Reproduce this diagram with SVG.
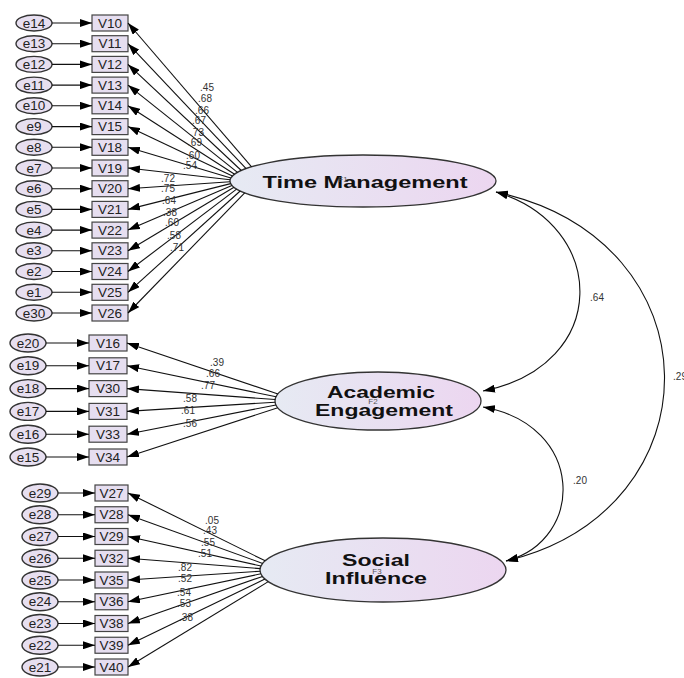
<svg xmlns="http://www.w3.org/2000/svg" width="684" height="678" viewBox="0 0 684 678">
<defs>
<linearGradient id="lat" x1="0" y1="0" x2="1" y2="0">
<stop offset="0" stop-color="#e6eaf3"/>
<stop offset="1" stop-color="#ecd6f0"/>
</linearGradient>
<marker id="ah" viewBox="0 0 12 8" refX="12" refY="4" markerWidth="12" markerHeight="8" orient="auto-start-reverse" markerUnits="userSpaceOnUse">
<path d="M0,0 L12,4 L0,8 z" fill="#000"/>
</marker>
</defs>
<style>
.err{fill:#e7dff0;stroke:#333;stroke-width:1.4}
.obs{fill:#e6def0;stroke:#444;stroke-width:1.2}
.lat{fill:url(#lat);stroke:#333;stroke-width:1.3}
.t{font-family:"Liberation Sans",Arial,sans-serif;font-size:13.5px;fill:#222;text-anchor:middle}
.lt{font-family:"Liberation Sans",Arial,sans-serif;font-size:17px;font-weight:bold;fill:#111;text-anchor:middle}
.sm{font-family:"Liberation Sans",Arial,sans-serif;font-size:8px;fill:#555;text-anchor:middle}
.lb{font-family:"Liberation Sans",Arial,sans-serif;font-size:10px;fill:#333;text-anchor:middle}
.c{stroke:#111;stroke-width:1.1;fill:none;marker-end:url(#ah)}
.cv{stroke:#111;stroke-width:1.1;fill:none;marker-end:url(#ah);marker-start:url(#ah)}
</style>
<rect width="684" height="678" fill="#fff"/>

<!-- Latent nodes -->
<g id="time-management">
<ellipse class="lat" cx="363" cy="181" rx="133" ry="26"/>
<text class="lt" x="365" y="188" textLength="205" lengthAdjust="spacingAndGlyphs">Time Management</text>
<text class="sm" x="343" y="182">F1</text>
</g>
<g id="academic-engagement">
<ellipse class="lat" cx="378" cy="401" rx="103" ry="29"/>
<text class="lt" x="381" y="398" textLength="108" lengthAdjust="spacingAndGlyphs">Academic</text>
<text class="lt" x="384" y="416" textLength="138" lengthAdjust="spacingAndGlyphs">Engagement</text>
<text class="sm" x="373" y="404">F2</text>
</g>
<g id="social-influence">
<ellipse class="lat" cx="383" cy="570" rx="123" ry="32"/>
<text class="lt" x="376" y="566" textLength="68" lengthAdjust="spacingAndGlyphs">Social</text>
<text class="lt" x="376" y="584" textLength="102" lengthAdjust="spacingAndGlyphs">Influence</text>
<text class="sm" x="377" y="574">F3</text>
</g>

<!-- Time management indicators -->
<g id="n-e14"><ellipse class="err" cx="34" cy="23" rx="18" ry="8"/><text class="t" x="34" y="27.5">e14</text></g>
<g id="n-V10"><rect class="obs" x="92" y="15" width="36" height="16"/><text class="t" x="110" y="27.5">V10</text></g>
<g id="n-e13"><ellipse class="err" cx="34" cy="43.7" rx="18" ry="8"/><text class="t" x="34" y="48.2">e13</text></g>
<g id="n-V11"><rect class="obs" x="92" y="35.7" width="36" height="16"/><text class="t" x="110" y="48.2">V11</text></g>
<g id="n-e12"><ellipse class="err" cx="34" cy="64.4" rx="18" ry="8"/><text class="t" x="34" y="68.9">e12</text></g>
<g id="n-V12"><rect class="obs" x="92" y="56.4" width="36" height="16"/><text class="t" x="110" y="68.9">V12</text></g>
<g id="n-e11"><ellipse class="err" cx="34" cy="85.1" rx="18" ry="8"/><text class="t" x="34" y="89.6">e11</text></g>
<g id="n-V13"><rect class="obs" x="92" y="77.1" width="36" height="16"/><text class="t" x="110" y="89.6">V13</text></g>
<g id="n-e10"><ellipse class="err" cx="34" cy="105.8" rx="18" ry="8"/><text class="t" x="34" y="110.3">e10</text></g>
<g id="n-V14"><rect class="obs" x="92" y="97.8" width="36" height="16"/><text class="t" x="110" y="110.3">V14</text></g>
<g id="n-e9"><ellipse class="err" cx="34" cy="126.6" rx="18" ry="8"/><text class="t" x="34" y="131.1">e9</text></g>
<g id="n-V15"><rect class="obs" x="92" y="118.6" width="36" height="16"/><text class="t" x="110" y="131.1">V15</text></g>
<g id="n-e8"><ellipse class="err" cx="34" cy="147.3" rx="18" ry="8"/><text class="t" x="34" y="151.8">e8</text></g>
<g id="n-V18"><rect class="obs" x="92" y="139.3" width="36" height="16"/><text class="t" x="110" y="151.8">V18</text></g>
<g id="n-e7"><ellipse class="err" cx="34" cy="168" rx="18" ry="8"/><text class="t" x="34" y="172.5">e7</text></g>
<g id="n-V19"><rect class="obs" x="92" y="160" width="36" height="16"/><text class="t" x="110" y="172.5">V19</text></g>
<g id="n-e6"><ellipse class="err" cx="34" cy="188.7" rx="18" ry="8"/><text class="t" x="34" y="193.2">e6</text></g>
<g id="n-V20"><rect class="obs" x="92" y="180.7" width="36" height="16"/><text class="t" x="110" y="193.2">V20</text></g>
<g id="n-e5"><ellipse class="err" cx="34" cy="209.4" rx="18" ry="8"/><text class="t" x="34" y="213.9">e5</text></g>
<g id="n-V21"><rect class="obs" x="92" y="201.4" width="36" height="16"/><text class="t" x="110" y="213.9">V21</text></g>
<g id="n-e4"><ellipse class="err" cx="34" cy="230.1" rx="18" ry="8"/><text class="t" x="34" y="234.6">e4</text></g>
<g id="n-V22"><rect class="obs" x="92" y="222.1" width="36" height="16"/><text class="t" x="110" y="234.6">V22</text></g>
<g id="n-e3"><ellipse class="err" cx="34" cy="250.8" rx="18" ry="8"/><text class="t" x="34" y="255.3">e3</text></g>
<g id="n-V23"><rect class="obs" x="92" y="242.8" width="36" height="16"/><text class="t" x="110" y="255.3">V23</text></g>
<g id="n-e2"><ellipse class="err" cx="34" cy="271.5" rx="18" ry="8"/><text class="t" x="34" y="276">e2</text></g>
<g id="n-V24"><rect class="obs" x="92" y="263.5" width="36" height="16"/><text class="t" x="110" y="276">V24</text></g>
<g id="n-e1"><ellipse class="err" cx="34" cy="292.3" rx="18" ry="8"/><text class="t" x="34" y="296.8">e1</text></g>
<g id="n-V25"><rect class="obs" x="92" y="284.3" width="36" height="16"/><text class="t" x="110" y="296.8">V25</text></g>
<g id="n-e30"><ellipse class="err" cx="34" cy="313" rx="18" ry="8"/><text class="t" x="34" y="317.5">e30</text></g>
<g id="n-V26"><rect class="obs" x="92" y="305" width="36" height="16"/><text class="t" x="110" y="317.5">V26</text></g>

<!-- Academic engagement indicators -->
<g id="n-e20"><ellipse class="err" cx="28" cy="343" rx="18" ry="9"/><text class="t" x="28" y="347.5">e20</text></g>
<g id="n-V16"><rect class="obs" x="89" y="335" width="38" height="16"/><text class="t" x="108" y="347.5">V16</text></g>
<g id="n-e19"><ellipse class="err" cx="28" cy="365.8" rx="18" ry="9"/><text class="t" x="28" y="370.3">e19</text></g>
<g id="n-V17"><rect class="obs" x="89" y="357.8" width="38" height="16"/><text class="t" x="108" y="370.3">V17</text></g>
<g id="n-e18"><ellipse class="err" cx="28" cy="388.6" rx="18" ry="9"/><text class="t" x="28" y="393.1">e18</text></g>
<g id="n-V30"><rect class="obs" x="89" y="380.6" width="38" height="16"/><text class="t" x="108" y="393.1">V30</text></g>
<g id="n-e17"><ellipse class="err" cx="28" cy="411.4" rx="18" ry="9"/><text class="t" x="28" y="415.9">e17</text></g>
<g id="n-V31"><rect class="obs" x="89" y="403.4" width="38" height="16"/><text class="t" x="108" y="415.9">V31</text></g>
<g id="n-e16"><ellipse class="err" cx="28" cy="434.2" rx="18" ry="9"/><text class="t" x="28" y="438.7">e16</text></g>
<g id="n-V33"><rect class="obs" x="89" y="426.2" width="38" height="16"/><text class="t" x="108" y="438.7">V33</text></g>
<g id="n-e15"><ellipse class="err" cx="28" cy="457" rx="18" ry="9"/><text class="t" x="28" y="461.5">e15</text></g>
<g id="n-V34"><rect class="obs" x="89" y="449" width="38" height="16"/><text class="t" x="108" y="461.5">V34</text></g>

<!-- Social influence indicators -->
<g id="n-e29"><ellipse class="err" cx="40" cy="493" rx="18" ry="9"/><text class="t" x="40" y="497.5">e29</text></g>
<g id="n-V27"><rect class="obs" x="95" y="485" width="33" height="16"/><text class="t" x="111.5" y="497.5">V27</text></g>
<g id="n-e28"><ellipse class="err" cx="40" cy="514.75" rx="18" ry="9"/><text class="t" x="40" y="519.25">e28</text></g>
<g id="n-V28"><rect class="obs" x="95" y="506.75" width="33" height="16"/><text class="t" x="111.5" y="519.25">V28</text></g>
<g id="n-e27"><ellipse class="err" cx="40" cy="536.5" rx="18" ry="9"/><text class="t" x="40" y="541">e27</text></g>
<g id="n-V29"><rect class="obs" x="95" y="528.5" width="33" height="16"/><text class="t" x="111.5" y="541">V29</text></g>
<g id="n-e26"><ellipse class="err" cx="40" cy="558.25" rx="18" ry="9"/><text class="t" x="40" y="562.75">e26</text></g>
<g id="n-V32"><rect class="obs" x="95" y="550.25" width="33" height="16"/><text class="t" x="111.5" y="562.75">V32</text></g>
<g id="n-e25"><ellipse class="err" cx="40" cy="580" rx="18" ry="9"/><text class="t" x="40" y="584.5">e25</text></g>
<g id="n-V35"><rect class="obs" x="95" y="572" width="33" height="16"/><text class="t" x="111.5" y="584.5">V35</text></g>
<g id="n-e24"><ellipse class="err" cx="40" cy="601.75" rx="18" ry="9"/><text class="t" x="40" y="606.25">e24</text></g>
<g id="n-V36"><rect class="obs" x="95" y="593.75" width="33" height="16"/><text class="t" x="111.5" y="606.25">V36</text></g>
<g id="n-e23"><ellipse class="err" cx="40" cy="623.5" rx="18" ry="9"/><text class="t" x="40" y="628">e23</text></g>
<g id="n-V38"><rect class="obs" x="95" y="615.5" width="33" height="16"/><text class="t" x="111.5" y="628">V38</text></g>
<g id="n-e22"><ellipse class="err" cx="40" cy="645.25" rx="18" ry="9"/><text class="t" x="40" y="649.75">e22</text></g>
<g id="n-V39"><rect class="obs" x="95" y="637.25" width="33" height="16"/><text class="t" x="111.5" y="649.75">V39</text></g>
<g id="n-e21"><ellipse class="err" cx="40" cy="667" rx="18" ry="9"/><text class="t" x="40" y="671.5">e21</text></g>
<g id="n-V40"><rect class="obs" x="95" y="659" width="33" height="16"/><text class="t" x="111.5" y="671.5">V40</text></g>

<g id="connectors">
<!-- error to indicator -->
<path class="c" d="M52,23 H92"/><path class="c" d="M52,43.7 H92"/><path class="c" d="M52,64.4 H92"/><path class="c" d="M52,85.1 H92"/><path class="c" d="M52,105.8 H92"/><path class="c" d="M52,126.6 H92"/><path class="c" d="M52,147.3 H92"/><path class="c" d="M52,168 H92"/><path class="c" d="M52,188.7 H92"/><path class="c" d="M52,209.4 H92"/><path class="c" d="M52,230.1 H92"/><path class="c" d="M52,250.8 H92"/><path class="c" d="M52,271.5 H92"/><path class="c" d="M52,292.3 H92"/><path class="c" d="M52,313 H92"/>
<path class="c" d="M46,343 H89"/><path class="c" d="M46,365.8 H89"/><path class="c" d="M46,388.6 H89"/><path class="c" d="M46,411.4 H89"/><path class="c" d="M46,434.2 H89"/><path class="c" d="M46,457 H89"/>
<path class="c" d="M58,493 H95"/><path class="c" d="M58,514.75 H95"/><path class="c" d="M58,536.5 H95"/><path class="c" d="M58,558.25 H95"/><path class="c" d="M58,580 H95"/><path class="c" d="M58,601.75 H95"/><path class="c" d="M58,623.5 H95"/><path class="c" d="M58,645.25 H95"/><path class="c" d="M58,667 H95"/>
<!-- loadings: Time Management -->
<path class="c" d="M251.6,166.8 L128,23"/>
<path class="c" d="M246.1,168.6 L128,43.7"/>
<path class="c" d="M241.3,170.5 L128,64.4"/>
<path class="c" d="M237.5,172.4 L128,85.1"/>
<path class="c" d="M234.6,174.2 L128,105.8"/>
<path class="c" d="M232.4,176.1 L128,126.6"/>
<path class="c" d="M230.9,178 L128,147.3"/>
<path class="c" d="M230.1,179.8 L128,168"/>
<path class="c" d="M230,181.7 L128,188.7"/>
<path class="c" d="M230.7,183.6 L128,209.4"/>
<path class="c" d="M231.9,185.4 L128,230.1"/>
<path class="c" d="M234,187.3 L128,250.8"/>
<path class="c" d="M236.6,189.1 L128,271.5"/>
<path class="c" d="M240.2,191 L128,292.3"/>
<path class="c" d="M244.7,192.9 L128,313"/>
<!-- loadings: Academic Engagement -->
<path class="c" d="M278,394 L127,343"/>
<path class="c" d="M276.1,396.8 L127,365.8"/>
<path class="c" d="M275.2,399.5 L127,388.6"/>
<path class="c" d="M275.1,402.2 L127,411.4"/>
<path class="c" d="M276,405 L127,434.2"/>
<path class="c" d="M277.8,407.7 L127,457"/>
<!-- loadings: Social Influence -->
<path class="c" d="M265.2,560.8 L128,493"/>
<path class="c" d="M262.7,563.4 L128,514.75"/>
<path class="c" d="M261,566 L128,536.5"/>
<path class="c" d="M260.1,568.6 L128,558.25"/>
<path class="c" d="M260.1,571.2 L128,580"/>
<path class="c" d="M260.9,573.8 L128,601.75"/>
<path class="c" d="M262.5,576.4 L128,623.5"/>
<path class="c" d="M264.9,579 L128,645.25"/>
<path class="c" d="M268.3,581.6 L128,667"/>
<!-- covariances -->
<path class="cv" d="M496,192 C608,225 612,365 483,391"/>
<path class="cv" d="M483,407 C585,425 586,540 506,561"/>
<path class="cv" d="M496,192 C719,240 719,510 506,561"/>
</g>

<g id="labels">
<text class="lb" x="207" y="90.5">.45</text>
<text class="lb" x="205" y="101.5">.68</text>
<text class="lb" x="202" y="113.5">.66</text>
<text class="lb" x="199" y="123.5">.67</text>
<text class="lb" x="197" y="135.5">.73</text>
<text class="lb" x="195" y="145.5">.69</text>
<text class="lb" x="193" y="158.5">.60</text>
<text class="lb" x="190" y="168.5">.54</text>
<text class="lb" x="168" y="181.5">.72</text>
<text class="lb" x="168" y="191.5">.75</text>
<text class="lb" x="169" y="203.5">.64</text>
<text class="lb" x="170" y="215.5">.38</text>
<text class="lb" x="172" y="225.5">.60</text>
<text class="lb" x="174" y="238.5">.58</text>
<text class="lb" x="177" y="250.5">.71</text>
<text class="lb" x="217" y="365.5">.39</text>
<text class="lb" x="213" y="376.5">.66</text>
<text class="lb" x="208" y="388.5">.77</text>
<text class="lb" x="190" y="401.5">.58</text>
<text class="lb" x="188" y="413.5">.61</text>
<text class="lb" x="190" y="426.5">.56</text>
<text class="lb" x="212" y="523.5">.05</text>
<text class="lb" x="210" y="533.5">.43</text>
<text class="lb" x="208" y="545.5">.55</text>
<text class="lb" x="205" y="556.5">.51</text>
<text class="lb" x="185" y="570.5">.82</text>
<text class="lb" x="185" y="581.5">.52</text>
<text class="lb" x="184" y="595.5">.54</text>
<text class="lb" x="184" y="606.5">.53</text>
<text class="lb" x="186" y="620.5">.38</text>
<text class="lb" x="597" y="300.5">.64</text>
<text class="lb" x="580" y="483.5">.20</text>
<text class="lb" x="680" y="380">.29</text>
</g>
</svg>
